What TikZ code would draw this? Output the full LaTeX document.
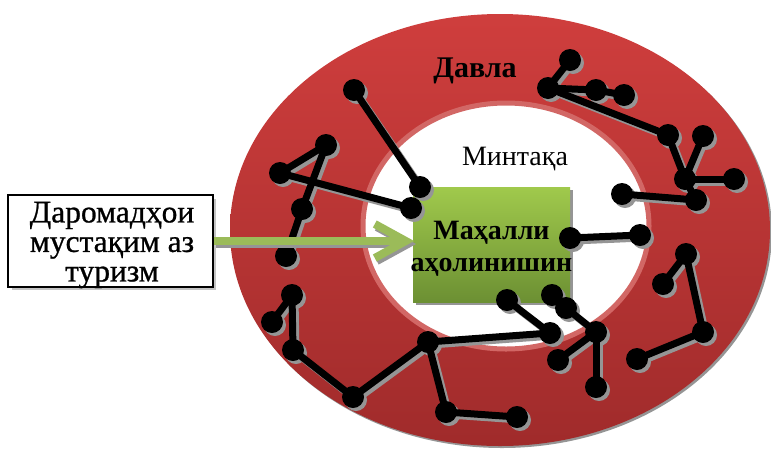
\documentclass[tikz,border=0pt]{standalone}
\usepackage{fontspec}
\setmainfont{Liberation Serif}
\newfontface\heavyserif{Liberation Serif}[FakeBold=0.8]
\usetikzlibrary{calc}
\definecolor{ringtop}{HTML}{CF3E3D}
\definecolor{ringbot}{HTML}{A02B2B}
\definecolor{ringedge}{HTML}{D26765}
\definecolor{boxtop}{HTML}{A0C94C}
\definecolor{boxbot}{HTML}{6C9033}
\definecolor{arrowgreen}{HTML}{9BBB59}
\definecolor{shadowgray}{HTML}{959595}
\definecolor{lightshadow}{HTML}{C4C4C4}
\tikzset{
  link/.style={line width=7pt},
  dotfill/.style={fill=black},
  greenbox/.style={rectangle, minimum width=157pt, minimum height=115pt, inner sep=0pt,
    top color=boxtop, bottom color=boxbot},
  boxtext/.style={align=center, inner sep=0pt, font=\bfseries\fontsize{28}{32}\selectfont},
  textbox/.style={rectangle, draw=black, line width=1.6pt, fill=white, minimum width=205pt,
    minimum height=92pt, inner sep=0pt},
  inctextstyle/.style={align=center, inner sep=0pt, font=\heavyserif\fontsize{31.5}{29.5}\selectfont},
  greenline/.style={draw=arrowgreen, line width=8pt},
  shadowline/.style={draw=shadowgray, line width=8pt}
}
\begin{document}
\begin{tikzpicture}[x=1pt,y=-1pt]
\useasboundingbox (0,0) rectangle (771,448);
% ring
\fill[shadowgray] (502,232) ellipse [x radius=270, y radius=216];
\shade[top color=ringtop,bottom color=ringbot] (500,230) ellipse [x radius=270, y radius=216];
\filldraw[fill=white, draw=ringedge, line width=5pt] (506,226) ellipse [x radius=143, y radius=123];
% green box
\fill[shadowgray] (416,190) rectangle (573,305);
\node[greenbox] (loc) at (491.5,244.5) {};
\node[boxtext] (loctext) at (491.5,249) {Маҳалли\\аҳолинишин};
% labels
\node[anchor=base, font=\bfseries\fontsize{30}{36}\selectfont, inner sep=0pt] (state) at (475,77) {Давла};
\node[anchor=base, font=\fontsize{28}{32}\selectfont, inner sep=0pt] (region) at (515,165) {Минтақа};
% network coordinates
\foreach \n/\x/\y in {A/354/90, B/420/187, C/280/173, D/326/145, E/411/208, F/302/209, G/286/256,
  H/570/60, I/548/88, J/596/90, K/624/95, L/668/135, M/703/136, N/685/179, O/734/179,
  P/622/194, Q/696/200, S/570/238, R/640/235, T/686/254, U/663/284, V/703/332, W/637/359,
  Y1/292/295, Y2/272/322, Z/293/350, AA/353/397, BB/428/342, CC/446/412, DD/517/417,
  EE/507/300, FF/550/333, GG/552/295, HH/566/308, II/596/332, JJ/558/360, KK/596/387}
  \coordinate (\n) at (\x,\y);
\def\edges{A/B, C/D, C/E, D/F, F/G, H/I, I/J, J/K, I/L, L/N, M/N, N/O, N/Q, P/Q, S/R,
  T/U, T/V, V/W, Y1/Y2, Y1/Z, Z/AA, AA/BB, BB/CC, CC/DD, BB/FF, EE/FF, GG/HH, HH/II, II/JJ, II/KK}
\def\dots{A,B,C,D,E,F,G,H,I,J,K,L,M,N,O,P,Q,S,R,T,U,V,W,Y1,Y2,Z,AA,BB,CC,DD,EE,FF,GG,HH,II,JJ,KK}
% shadows of network
\begin{scope}[transform canvas={shift={(3pt,-3pt)}}]
  \foreach \a/\b in \edges \draw[link, draw=shadowgray] (\a) -- (\b);
  \foreach \p in \dots \fill[shadowgray] (\p) circle[radius=11pt];
\end{scope}
% network
\foreach \a/\b in \edges \draw[link] (\a) -- (\b);
\foreach \p in \dots \fill[dotfill] (\p) circle[radius=11pt];
% income box
\fill[lightshadow] (12,199) rectangle (216,290);
\node[textbox] (inc) at (110.5,241) {};
\node[inctextstyle] (inctext) at (112,245) {Даромадҳои\\мустақим аз\\туризм};
% arrow
\coordinate (tip) at (inc.east -| loc.west);
\begin{scope}[transform canvas={shift={(2pt,-3pt)}}]
  \draw[shadowline] (inc.east) -- ($(tip)+(-8,0)$);
  \draw[shadowline, line join=miter] ($(tip)+(-38,-17)$) -- ($(tip)+(-7,0)$) -- ($(tip)+(-38,17)$);
\end{scope}
\draw[greenline] (inc.east) -- ($(tip)+(-8,0)$);
\draw[greenline, line join=miter] ($(tip)+(-38,-17)$) -- ($(tip)+(-7,0)$) -- ($(tip)+(-38,17)$);
\end{tikzpicture}
\end{document}
